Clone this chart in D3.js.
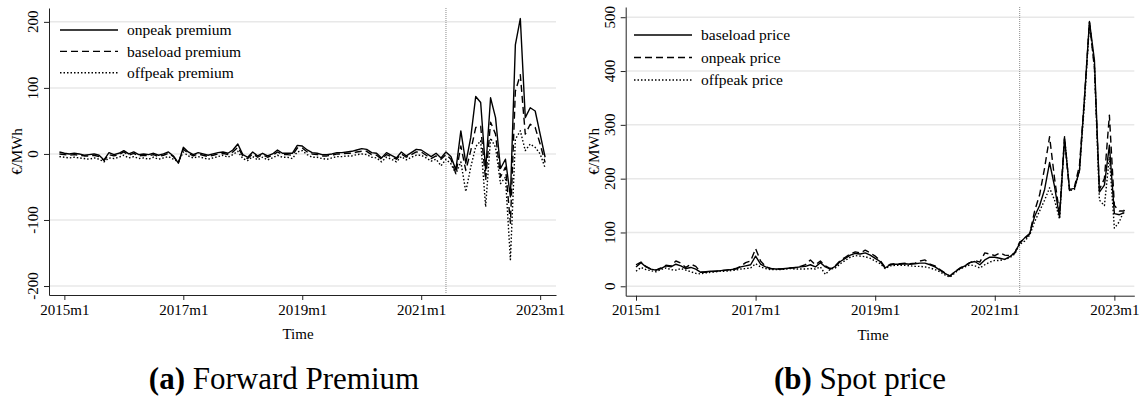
<!DOCTYPE html>
<html>
<head>
<meta charset="utf-8">
<script src="https://cdn.jsdelivr.net/npm/d3@7"></script>
<style>
  body { margin: 0; background: #fff; }
  svg { display: block; }
  text { font-family: "Liberation Serif", "Times New Roman", serif; fill: #000; }
</style>
</head>
<body>
<svg id="chart" width="1148" height="398"></svg>
<script>
// months are counted from 2015m1 = 0
var tickMonths = [0, 24, 48, 72, 96];
var tickLabels = ["2015m1", "2017m1", "2019m1", "2021m1", "2023m1"];
var breakMonth = 77; // 2021m6

// (a) forward premium, 2014m12 .. 2023m2
var premStart = -1;
var onpeakPremium = [3,
  1, 0, 1, 0, -2, -1, 0, -2, -9, 2, -1, 1,
  5, 0, 3, -1, 0, -1, 1, -2, 0, 3, -3, -14,
  10, 3, -1, 2, 0, -2, 0, 2, 3, 1, 6, 15,
  -1, -5, 3, -3, 1, -3, 0, 6, 1, 1, 1, 13,
  12, 6, 2, 1, -1, -1, 0, 2, 2, 3, 4, 6,
  8, 7, 2, 1, -6, 2, -2, -6, 3, -3, 2, 7,
  6, 1, -4, 1, -6,
  3, -4, -24, 35, -14, 25, 87, 78, -25, 85, 55, -22, -8, -65, 165, 205, 55, 70, 65, 30, -5];
var baseloadPremium = [0,
  -1, -2, -1, -2, -3, -3, -2, -4, -10, -1, -3, -1,
  3, -2, 1, -3, -2, -3, -1, -4, -2, 1, -4, -13,
  7, 1, -3, 0, -2, -4, -2, 0, 1, -1, 3, 10,
  -3, -7, 0, -5, -1, -5, -2, 3, -1, -1, -2, 9,
  9, 3, 0, -1, -3, -3, -2, 0, 0, 1, 1, 3,
  4, 4, -1, -2, -8, -1, -4, -8, 0, -5, -1, 3,
  3, -2, -7, -3, -8,
  -1, -8, -30, 12, -25, 5, 40, 42, -40, 48, 30, -35, -20, -105, 95, 120, 30, 45, 40, 15, -13];
var offpeakPremium = [-4,
  -5, -6, -5, -6, -7, -8, -6, -8, -12, -6, -7, -5,
  -2, -6, -4, -7, -6, -8, -5, -8, -6, -4, -8, -12,
  3, -3, -6, -4, -6, -8, -6, -4, -2, -5, -1, 4,
  -7, -10, -4, -9, -5, -9, -6, -2, -5, -5, -7, 3,
  5, -1, -5, -5, -7, -8, -6, -4, -4, -3, -3, -1,
  0, -1, -5, -6, -12, -5, -8, -12, -4, -9, -5, -2,
  -2, -6, -11, -8, -18,
  -8, -15, -30, -12, -57, -20, 11, 20, -80, 24, 10, -45, -35, -160, 22, 35, 5, 15, 10, 0, -21];

// (b) spot price, 2015m1 .. 2023m3
var priceStart = 0;
var baseloadPrice = [
  36, 44, 36, 32, 30, 33, 38, 36, 41, 38, 33, 35,
  32, 26, 27, 28, 28, 29, 30, 31, 32, 36, 38, 40,
  56, 41, 36, 33, 32, 32, 33, 34, 35, 36, 37, 40,
  36, 44, 36, 32, 37, 46, 52, 58, 61, 60, 62, 58,
  52, 46, 34, 40, 41, 41, 42, 41, 42, 43, 43, 40,
  36, 30, 24, 19, 27, 33, 38, 44, 46, 40, 49, 54,
  54, 52, 50, 55, 62, 80, 90, 98, 130, 150, 180, 230,
  185, 128, 275, 180, 182, 215, 350, 492, 420, 175, 188, 262,
  135, 133, 137];
var onpeakPrice = [
  40, 45, 37, 32, 30, 34, 39, 38, 47, 43, 35, 41,
  37, 26, 26, 27, 28, 29, 30, 31, 33, 37, 44, 47,
  70, 47, 37, 33, 32, 32, 33, 34, 35, 37, 40, 49,
  40, 47, 38, 33, 38, 48, 54, 60, 64, 62, 67, 62,
  56, 48, 35, 41, 42, 42, 43, 42, 43, 47, 49, 41,
  38, 31, 25, 19, 27, 34, 38, 44, 48, 45, 62, 60,
  57, 62, 58, 57, 62, 82, 88, 97, 140, 170, 220, 278,
  200, 135, 278, 178, 185, 225, 350, 490, 405, 180, 200, 318,
  150, 140, 140];
var offpeakPrice = [
  28, 35, 31, 29, 27, 31, 34, 31, 30, 33, 30, 27,
  24, 23, 25, 26, 27, 28, 28, 29, 30, 32, 33, 34,
  42, 36, 33, 31, 31, 31, 32, 33, 32, 32, 32, 33,
  32, 36, 22, 32, 34, 42, 48, 54, 57, 56, 55, 52,
  47, 42, 33, 38, 39, 39, 39, 38, 37, 37, 36, 34,
  31, 27, 21, 17, 25, 32, 36, 40, 38, 34, 40, 45,
  48, 48, 50, 53, 60, 78, 84, 95, 120, 140, 160, 183,
  160, 125, 275, 178, 180, 215, 340, 490, 410, 160, 150, 240,
  108, 120, 142];

var svg = d3.select("#chart");

function drawPanel(opt) {
  var g = svg.append("g");
  var x = d3.scaleLinear().domain(opt.xDomain).range([opt.left, opt.right]);
  var y = d3.scaleLinear().domain(opt.yDomain).range([opt.bottom, opt.top]);

  // gridlines
  g.selectAll(".grid").data(opt.yTicks).enter().append("line")
    .attr("x1", opt.left).attr("x2", opt.right)
    .attr("y1", d => y(d)).attr("y2", d => y(d))
    .attr("stroke", "#e8e8e8").attr("stroke-width", 1.5);

  // break marker
  g.append("line")
    .attr("x1", x(breakMonth)).attr("x2", x(breakMonth))
    .attr("y1", opt.top).attr("y2", opt.bottom - 2)
    .attr("stroke", "#8a8a8a").attr("stroke-width", 1)
    .attr("stroke-dasharray", "1,1");

  // axes
  var xAxis = d3.axisBottom(x).tickValues(tickMonths)
    .tickFormat((d, i) => tickLabels[i]).tickSize(5).tickSizeOuter(0);
  var gx = g.append("g").attr("transform", `translate(0, ${opt.bottom})`).call(xAxis);
  gx.select(".domain").attr("stroke", "#222");
  gx.selectAll(".tick line").attr("stroke", "#222");
  gx.selectAll(".tick text").attr("font-size", 15).attr("fill", "#000").attr("y", 9);

  var yAxis = d3.axisLeft(y).tickValues(opt.yTicks).tickFormat("").tickSize(5).tickSizeOuter(0);
  var gy = g.append("g").attr("transform", `translate(${opt.left}, 0)`).call(yAxis);
  gy.select(".domain").attr("stroke", "#222");
  gy.selectAll(".tick line").attr("stroke", "#222");

  g.selectAll(".ylab").data(opt.yTicks).enter().append("text")
    .attr("transform", d => `translate(${opt.left - 16}, ${y(d)}) rotate(-90)`)
    .attr("text-anchor", "middle").attr("dy", "0.35em")
    .attr("font-size", 15)
    .text(d => d);

  // axis titles
  g.append("text")
    .attr("transform", `translate(${opt.left - 32}, ${(opt.top + opt.bottom) / 2}) rotate(-90)`)
    .attr("text-anchor", "middle").attr("dy", "0.35em")
    .attr("font-size", 15)
    .text("€/MWh");
  g.append("text")
    .attr("x", opt.timeX).attr("y", opt.bottom + 44)
    .attr("text-anchor", "middle")
    .attr("font-size", 15)
    .text("Time");

  // series
  opt.series.forEach(function(s) {
    var line = d3.line()
      .x((d, i) => x(opt.start + i))
      .y(d => y(d));
    g.append("path")
      .datum(s.values)
      .attr("d", line)
      .attr("fill", "none")
      .attr("stroke", "#000")
      .attr("stroke-width", s.width)
      .attr("stroke-dasharray", s.dash)
      .attr("stroke-linejoin", "round");
  });

  // legend
  var lg = g.append("g");
  opt.series.forEach(function(s, i) {
    var ly = opt.legendY + i * opt.legendStep;
    lg.append("line")
      .attr("x1", opt.legendX).attr("x2", opt.legendX + 58)
      .attr("y1", ly).attr("y2", ly)
      .attr("stroke", "#000").attr("stroke-width", s.width)
      .attr("stroke-dasharray", s.dash);
    lg.append("text")
      .attr("x", opt.legendX + 67).attr("y", ly)
      .attr("dy", "0.33em")
      .attr("font-size", 15.5)
      .text(s.name);
  });

  // caption
  var cap = svg.append("text")
    .attr("x", opt.capX).attr("y", 389)
    .attr("text-anchor", "middle")
    .attr("font-size", 31);
  cap.append("tspan").attr("font-weight", "bold").text(opt.capTag);
  cap.append("tspan").text(" " + opt.capText);
}

var solid = { width: 1.4, dash: null };
var dashed = { width: 1.4, dash: "7,4" };
var dotted = { width: 1.4, dash: "1.5,2" };

drawPanel({
  left: 49, right: 556, top: 8, bottom: 295,
  xDomain: [-3.1, 99.2], yDomain: [-213.6, 221],
  yTicks: [-200, -100, 0, 100, 200],
  start: premStart,
  timeX: 298,
  legendX: 60, legendY: 30, legendStep: 21.4,
  series: [
    Object.assign({ name: "onpeak premium", values: onpeakPremium }, solid),
    Object.assign({ name: "baseload premium", values: baseloadPremium }, dashed),
    Object.assign({ name: "offpeak premium", values: offpeakPremium }, dotted)
  ],
  capX: 284, capTag: "(a)", capText: "Forward Premium"
});

drawPanel({
  left: 625.7, right: 1134.3, top: 7, bottom: 295.7,
  xDomain: [-2.07, 100], yDomain: [-17.5, 519],
  yTicks: [0, 100, 200, 300, 400, 500],
  start: priceStart,
  timeX: 873,
  legendX: 634, legendY: 35, legendStep: 22.5,
  series: [
    Object.assign({ name: "baseload price", values: baseloadPrice }, solid),
    Object.assign({ name: "onpeak price", values: onpeakPrice }, dashed),
    Object.assign({ name: "offpeak price", values: offpeakPrice }, dotted)
  ],
  capX: 860, capTag: "(b)", capText: "Spot price"
});
</script>
</body>
</html>
